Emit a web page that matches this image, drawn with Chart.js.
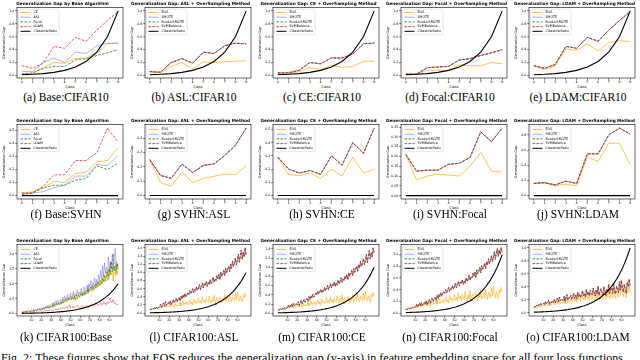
<!DOCTYPE html>
<html>
<head>
<meta charset="utf-8">
<script src="https://cdn.jsdelivr.net/npm/chart.js@4.4.0/dist/chart.umd.min.js"></script>
<style>
  body { margin: 0; width: 640px; height: 360px; overflow: hidden; background: #fff; position: relative; }
  canvas { position: absolute; }
  .cap { position: absolute; width: 128px; text-align: center; font-family: "Liberation Serif", "DejaVu Serif", serif; font-size: 11.5px; line-height: 12px; color: #000; white-space: nowrap; }
  .fig { position: absolute; left: 1px; top: 352px; font-family: "Liberation Serif", serif; font-size: 12px; line-height: 12px; white-space: nowrap; }
</style>
</head>
<body>
<div id="panels"></div>
<div class="fig">Fig. 2: These figures show that EOS reduces the generalization gap (y-axis) in feature embedding space for all four loss functions.</div>
<script>
// ---- data ----
const classes10 = [0, 1, 2, 3, 4, 5, 6, 7, 8, 9];
const classes100 = [0,1,2,3,4,5,6,7,8,9,10,11,12,13,14,15,16,17,18,19,20,21,22,23,24,25,26,27,28,29,30,31,32,33,34,35,36,37,38,39,40,41,42,43,44,45,46,47,48,49,50,51,52,53,54,55,56,57,58,59,60,61,62,63,64,65,66,67,68,69,70,71,72,73,74,75,76,77,78,79,80,81,82,83,84,85,86,87,88,89,90,91,92,93,94,95,96,97,98,99];
const xTicks10 = [0, 1, 2, 3, 4, 5, 6, 7, 8, 9];
const xTicks100 = [10, 20, 30, 40, 50, 60, 70, 80, 90];

const imbRatio10 = [0.01, 0.017, 0.028, 0.047, 0.078, 0.13, 0.216, 0.36, 0.6, 1.0];
const imbRatioSvhn = [0, 0, 0, 0, 0, 0, 0, 0, 0, 0];
const imbRatio100 = [.009,.009,.010,.010,.011,.012,.012,.013,.013,.014,.015,.016,.016,.017,.018,.019,.020,.021,.022,.023,
  .024,.026,.027,.028,.029,.031,.032,.034,.035,.037,.039,.041,.043,.045,.047,.049,.052,.054,.057,.059,
  .062,.065,.068,.072,.075,.079,.083,.086,.091,.095,.100,.104,.109,.115,.120,.126,.132,.138,.145,.152,
  .159,.167,.175,.184,.192,.202,.211,.222,.232,.243,.255,.268,.281,.294,.308,.323,.339,.355,.372,.390,
  .409,.429,.449,.471,.494,.517,.542,.568,.596,.624,.655,.686,.719,.754,.790,.828,.868,.910,.954,1.0];

// CIFAR10
const c10BaseCE    = [0.03, 0.03, 0.12, 0.20, 0.19, 0.26, 0.27, 0.35, 0.49, 0.50];
const c10BaseASL   = [0.06, 0.06, 0.20, 0.27, 0.20, 0.36, 0.34, 0.46, 0.50, 0.50];
const c10BaseFocal = [0.02, 0.04, 0.11, 0.14, 0.14, 0.24, 0.26, 0.31, 0.35, 0.40];
const c10BaseLDAM  = [0.15, 0.11, 0.19, 0.45, 0.42, 0.59, 0.53, 0.70, 0.85, 0.99];
const c10AslEOS  = [0.05, 0.04, 0.14, 0.20, 0.10, 0.21, 0.20, 0.21, 0.22, 0.23];
const c10AslSVM  = [0.06, 0.05, 0.20, 0.26, 0.19, 0.36, 0.34, 0.46, 0.50, 0.49];
const c10CeEOS   = [0.03, 0.03, 0.06, 0.12, 0.09, 0.16, 0.12, 0.14, 0.22, 0.22];
const c10CeSVM   = [0.04, 0.04, 0.08, 0.20, 0.18, 0.27, 0.27, 0.33, 0.49, 0.50];
const c10FocalEOS = [0.02, 0.02, 0.08, 0.08, 0.08, 0.16, 0.15, 0.15, 0.20, 0.18];
const c10FocalSVM = [0.02, 0.02, 0.12, 0.13, 0.14, 0.24, 0.26, 0.31, 0.35, 0.40];
const c10LdamEOS = [0.15, 0.09, 0.15, 0.41, 0.39, 0.49, 0.38, 0.51, 0.54, 0.52];
const c10LdamSVM = [0.15, 0.11, 0.17, 0.45, 0.42, 0.59, 0.53, 0.70, 0.85, 0.99];

// SVHN
const svBaseCE    = [0.02, 0.03, 0.06, 0.11, 0.10, 0.17, 0.18, 0.26, 0.27, 0.37];
const svBaseASL   = [0.01, 0.02, 0.03, 0.06, 0.08, 0.15, 0.15, 0.24, 0.23, 0.31];
const svBaseFocal = [0.01, 0.02, 0.06, 0.08, 0.08, 0.12, 0.13, 0.23, 0.20, 0.25];
const svBaseLDAM  = [0.02, 0.02, 0.07, 0.16, 0.16, 0.27, 0.27, 0.33, 0.52, 0.41];
const svAslEOS  = [0.25, 0.09, 0.065, 0.165, 0.09, 0.12, 0.135, 0.15, 0.145, 0.21];
const svAslSVM  = [0.25, 0.14, 0.12, 0.22, 0.16, 0.21, 0.22, 0.28, 0.35, 0.47];
const svCeEOS   = [0.29, 0.16, 0.15, 0.17, 0.13, 0.20, 0.15, 0.29, 0.17, 0.20];
const svCeSVM   = [0.29, 0.20, 0.17, 0.19, 0.16, 0.30, 0.23, 0.40, 0.32, 0.51];
const svFocalEOS = [0.21, 0.08, 0.10, 0.11, 0.105, 0.10, 0.15, 0.22, 0.125, 0.12];
const svFocalSVM = [0.21, 0.125, 0.13, 0.13, 0.16, 0.165, 0.195, 0.325, 0.275, 0.345];
const svLdamEOS = [0.16, 0.17, 0.13, 0.15, 0.13, 0.51, 0.45, 0.69, 0.69, 0.41];
const svLdamSVM = [0.16, 0.17, 0.14, 0.19, 0.16, 0.55, 0.55, 0.80, 0.89, 0.81];

// CIFAR100
const c100BaseCE = [.05,.04,.06,.05,.08,.06,.07,.09,.06,.08, .10,.07,.11,.09,.13,.10,.12,.15,.11,.14,
  .16,.12,.18,.14,.20,.17,.22,.16,.24,.19, .26,.21,.30,.24,.33,.27,.38,.29,.35,.31,
  .40,.33,.45,.36,.42,.50,.38,.55,.44,.48, .60,.45,.52,.65,.48,.58,.62,.50,.68,.55,
  .58,.72,.60,.66,.75,.62,.70,.80,.68,.85, .78,.90,.72,.95,.82,.88,1.0,.85,1.05,.92,
  1.1,.95,1.2,1.0,1.3,1.05,1.15,1.4,1.1,1.5, 1.2,1.7,1.3,1.45,1.1,1.6,1.25,1.75,1.3,1.65];
const c100BaseASL = [.06,.05,.08,.06,.10,.07,.09,.11,.07,.10, .12,.09,.14,.10,.15,.12,.16,.13,.18,.14,
  .19,.15,.21,.17,.25,.19,.27,.20,.30,.23, .28,.35,.25,.38,.30,.42,.33,.45,.36,.40,
  .48,.38,.55,.42,.60,.45,.52,.65,.47,.58, .70,.50,.62,.75,.55,.68,.60,.80,.58,.72,
  .65,.85,.62,.78,.90,.70,.82,.95,.75,1.0, .88,1.1,.85,1.05,.95,1.2,.92,1.15,1.0,1.3,
  1.1,1.45,1.2,1.6,1.25,1.7,1.35,1.55,1.3,1.9, 1.4,1.75,1.5,2.0,1.45,1.8,2.2,1.5,1.65,1.55];
const c100BaseFocal = [.04,.05,.04,.06,.05,.07,.06,.08,.06,.07, .09,.08,.11,.09,.12,.10,.14,.11,.15,.13,
  .16,.14,.18,.15,.20,.17,.22,.19,.24,.20, .25,.22,.28,.24,.30,.26,.33,.28,.36,.30,
  .38,.33,.42,.36,.45,.40,.48,.42,.52,.45, .50,.46,.55,.48,.58,.44,.62,.50,.56,.60,
  .55,.65,.58,.70,.60,.74,.66,.78,.70,.82, .75,.88,.80,.92,.78,.96,.85,1.0,.90,1.05,
  .95,1.1,1.0,1.2,1.05,1.3,1.1,1.25,1.4,1.15, 1.5,1.3,1.75,1.4,2.0,1.45,1.6,1.35,1.7,1.5];
const c100BaseLDAM = [.03,.04,.03,.05,.04,.06,.05,.04,.06,.05, .06,.05,.08,.06,.07,.09,.06,.08,.07,.10,
  .08,.10,.07,.12,.09,.11,.10,.13,.09,.12, .11,.14,.10,.13,.15,.12,.16,.13,.18,.14,
  .20,.15,.17,.22,.16,.19,.24,.17,.21,.30, .18,.22,.20,.26,.19,.23,.21,.28,.22,.20,
  .24,.21,.27,.23,.20,.26,.22,.29,.24,.25, .30,.25,.33,.27,.24,.31,.28,.35,.26,.30,
  .29,.36,.27,.32,.40,.30,.34,.28,.38,.33, .45,.52,.36,.40,.48,.32,.35,.30,.28,.33];

const c100AslEOS = [.08,.10,.09,.11,.10,.13,.11,.14,.12,.13, .15,.12,.18,.14,.16,.20,.13,.17,.15,.19,
  .16,.22,.15,.18,.20,.14,.24,.17,.21,.18, .20,.26,.18,.23,.30,.19,.25,.22,.28,.20,
  .24,.32,.22,.27,.20,.35,.25,.30,.23,.28, .38,.26,.31,.24,.40,.28,.33,.25,.36,.29,
  .27,.42,.30,.25,.35,.28,.44,.26,.32,.38, .30,.27,.40,.33,.25,.36,.30,.45,.28,.34,
  .38,.29,.46,.32,.27,.40,.35,.30,.48,.33, .52,.36,.30,.42,.34,.28,.45,.38,.50,.40];
const c100AslSVM = [.08,.10,.09,.12,.10,.14,.11,.15,.12,.13, .16,.22,.14,.20,.25,.17,.28,.19,.23,.26,
  .22,.30,.20,.27,.33,.25,.30,.36,.28,.34, .38,.30,.42,.35,.45,.38,.48,.40,.44,.50,
  .46,.55,.48,.52,.60,.50,.58,.54,.65,.56, .62,.70,.58,.66,.74,.62,.72,.68,.78,.66,
  .75,.70,.82,.72,.78,.88,.76,.84,.80,.92, .85,.95,.82,1.0,.90,.96,1.05,.92,1.1,1.0,
  1.08,1.15,1.02,1.2,1.1,1.28,1.15,1.22,1.35,1.18, 1.3,1.45,1.25,1.4,1.55,1.32,1.5,1.38,1.6,1.42];
const c100CeEOS = [.07,.09,.08,.10,.09,.11,.10,.12,.10,.11, .13,.10,.15,.12,.14,.17,.11,.15,.13,.16,
  .14,.19,.13,.16,.18,.12,.21,.15,.19,.16, .18,.23,.16,.21,.27,.17,.22,.20,.25,.18,
  .22,.29,.20,.24,.18,.31,.23,.27,.21,.25, .34,.23,.28,.22,.36,.25,.30,.22,.33,.26,
  .24,.38,.27,.22,.32,.25,.40,.23,.29,.34, .27,.24,.36,.30,.22,.33,.27,.41,.25,.31,
  .35,.26,.42,.29,.24,.37,.32,.27,.44,.30, .47,.33,.27,.38,.31,.25,.41,.35,.45,.37];
const c100CeSVM = [.06,.08,.07,.10,.08,.11,.09,.12,.10,.11, .13,.18,.12,.16,.20,.14,.22,.16,.19,.21,
  .18,.25,.17,.23,.28,.21,.26,.30,.24,.29, .32,.26,.36,.30,.38,.33,.41,.35,.39,.44,
  .40,.48,.42,.46,.52,.44,.50,.47,.56,.49, .54,.61,.51,.58,.64,.55,.63,.59,.68,.58,
  .66,.61,.72,.64,.69,.77,.67,.74,.71,.81, .75,.84,.73,.88,.80,.85,.93,.82,.97,.89,
  .95,1.02,.91,1.06,.98,1.13,1.02,1.08,1.19,1.05, 1.15,1.28,1.1,1.24,1.36,1.18,1.32,1.22,1.42,1.3];
const c100FocalEOS = [.06,.08,.07,.09,.08,.10,.09,.11,.09,.10, .12,.09,.14,.11,.13,.16,.10,.14,.12,.15,
  .13,.18,.12,.15,.17,.11,.20,.14,.18,.15, .17,.22,.15,.20,.25,.16,.21,.19,.24,.17,
  .21,.28,.19,.23,.17,.30,.22,.26,.20,.24, .32,.22,.27,.21,.35,.24,.29,.21,.32,.25,
  .23,.37,.26,.21,.31,.24,.39,.22,.28,.33, .26,.23,.35,.29,.21,.32,.26,.40,.24,.30,
  .34,.25,.41,.28,.23,.36,.31,.26,.43,.29, .46,.32,.26,.37,.30,.24,.40,.34,.44,.36];
const c100FocalSVM = [.05,.07,.06,.08,.07,.09,.08,.10,.08,.09, .11,.15,.10,.13,.17,.12,.18,.13,.16,.18,
  .15,.21,.14,.19,.23,.17,.22,.25,.20,.24, .27,.22,.30,.25,.32,.28,.35,.29,.33,.37,
  .34,.40,.35,.39,.44,.37,.42,.40,.47,.41, .45,.51,.43,.49,.54,.46,.53,.50,.57,.49,
  .55,.51,.60,.54,.58,.65,.56,.62,.60,.68, .63,.70,.61,.74,.67,.71,.78,.69,.81,.75,
  .79,.85,.76,.88,.82,.93,.85,.90,.98,.88, .95,1.05,.92,1.02,1.1,.97,1.08,1.0,1.12,1.04];
const c100LdamEOS = [.06,.08,.07,.09,.08,.10,.09,.11,.09,.10, .12,.10,.13,.11,.12,.15,.10,.13,.12,.14,
  .13,.16,.12,.14,.17,.13,.18,.14,.16,.15, .15,.19,.14,.18,.22,.15,.19,.17,.21,.16,
  .19,.24,.17,.21,.16,.26,.20,.23,.18,.22, .27,.20,.24,.19,.30,.22,.26,.19,.28,.23,
  .21,.31,.24,.20,.28,.22,.33,.21,.26,.29, .24,.21,.32,.27,.20,.30,.24,.35,.22,.28,
  .31,.23,.37,.26,.22,.33,.29,.24,.38,.27, .40,.30,.25,.34,.28,.23,.37,.31,.42,.33];
const c100LdamSVM = [.08,.10,.09,.12,.10,.13,.11,.14,.12,.13, .15,.12,.17,.14,.16,.19,.13,.17,.15,.18,
  .16,.21,.15,.19,.22,.17,.24,.18,.21,.20, .19,.25,.18,.23,.28,.20,.24,.22,.27,.21,
  .24,.30,.22,.27,.21,.32,.25,.29,.23,.28, .34,.26,.30,.24,.36,.28,.32,.26,.35,.29,
  .28,.38,.31,.26,.35,.29,.41,.27,.33,.37, .31,.28,.40,.34,.27,.37,.31,.44,.30,.36,
  .39,.30,.46,.34,.29,.41,.36,.31,.48,.35, .50,.38,.32,.44,.36,.30,.47,.40,.52,.42];

// y tick labels per panel group
const yTicksUnit = [0.0, 0.2, 0.4, 0.6, 0.8, 1.0];
const yTicksHalf = [0.0, 0.1, 0.2, 0.3, 0.4, 0.5];
const yTicksSvAsl = [0.0, 0.1, 0.2, 0.3, 0.4];
const yTicksSvFocal = [0.00, 0.05, 0.10, 0.15, 0.20, 0.25, 0.30, 0.35];
const yTicksSvLdam = [0.0, 0.2, 0.4, 0.6, 0.8];
const yTicksBase100 = [0.0, 0.5, 1.0, 1.5, 2.0];
const yTicksAsl100 = [0.0, 0.2, 0.4, 0.6, 0.8, 1.0, 1.2, 1.4, 1.6];
const yTicksCe100 = [0.0, 0.2, 0.4, 0.6, 0.8, 1.0, 1.2, 1.4];

// ---- styles ----
const styles = {
  CE:            { color: 'rgba(255,165,0,0.75)', dash: [] },
  ASL:           { color: 'rgba(0,0,255,0.35)', dash: [] },
  Focal:         { color: 'rgba(0,128,0,0.8)', dash: [2.6, 1.4] },
  LDAM:          { color: 'rgba(240,20,20,0.8)', dash: [2.6, 1.4] },
  EOS:           { color: 'rgba(255,165,0,0.75)', dash: [] },
  SMOTE:         { color: 'rgba(0,0,255,0.35)', dash: [] },
  BorderSMOTE:   { color: 'rgba(0,128,0,0.8)', dash: [2.6, 1.4] },
  SVMBalance:    { color: 'rgba(240,20,20,0.85)', dash: [2.6, 1.4] },
  ClassImbRatio: { color: '#000', dash: [] },
};

const baseTitle = 'Generalization Gap by Base Algorithm';
const overTitle = (loss) => 'Generalization Gap: ' + loss + ' + OverSampling Method';
const over = (eos, svm, ratio) => [['EOS', eos], ['SMOTE', svm], ['BorderSMOTE', svm], ['SVMBalance', svm], ['ClassImbRatio', ratio]];

const rows = [
  { top: 0, height: 90, cap: 91 },
  { top: 117, height: 94, cap: 208 },
  { top: 237, height: 91, cap: 331 },
];

const panels = [
  { row: 0, caption: '(a) Base:CIFAR10', title: baseTitle, labels: classes10, xt: xTicks10, yt: yTicksUnit, y: [-0.04, 1.05], dec: 1,
    series: [['CE', c10BaseCE], ['ASL', c10BaseASL], ['Focal', c10BaseFocal], ['LDAM', c10BaseLDAM], ['ClassImbRatio', imbRatio10]] },
  { row: 0, caption: '(b) ASL:CIFAR10', title: overTitle('ASL'), labels: classes10, xt: xTicks10, yt: yTicksUnit, y: [-0.04, 1.05], dec: 1,
    series: over(c10AslEOS, c10AslSVM, imbRatio10) },
  { row: 0, caption: '(c) CE:CIFAR10', title: overTitle('CE'), labels: classes10, xt: xTicks10, yt: yTicksUnit, y: [-0.04, 1.05], dec: 1,
    series: over(c10CeEOS, c10CeSVM, imbRatio10) },
  { row: 0, caption: '(d) Focal:CIFAR10', title: overTitle('Focal'), labels: classes10, xt: xTicks10, yt: yTicksUnit, y: [-0.04, 1.05], dec: 1,
    series: over(c10FocalEOS, c10FocalSVM, imbRatio10) },
  { row: 0, caption: '(e) LDAM:CIFAR10', title: overTitle('LDAM'), labels: classes10, xt: xTicks10, yt: yTicksUnit, y: [-0.04, 1.05], dec: 1,
    series: over(c10LdamEOS, c10LdamSVM, imbRatio10) },

  { row: 1, caption: '(f) Base:SVHN', title: baseTitle, labels: classes10, xt: xTicks10, yt: yTicksHalf, y: [-0.026, 0.546], dec: 1,
    series: [['CE', svBaseCE], ['ASL', svBaseASL], ['Focal', svBaseFocal], ['LDAM', svBaseLDAM], ['ClassImbRatio', imbRatioSvhn]] },
  { row: 1, caption: '(g) SVHN:ASL', title: overTitle('ASL'), labels: classes10, xt: xTicks10, yt: yTicksSvAsl, y: [-0.024, 0.494], dec: 1,
    series: over(svAslEOS, svAslSVM, imbRatioSvhn) },
  { row: 1, caption: '(h) SVHN:CE', title: overTitle('CE'), labels: classes10, xt: xTicks10, yt: yTicksHalf, y: [-0.026, 0.536], dec: 1,
    series: over(svCeEOS, svCeSVM, imbRatioSvhn) },
  { row: 1, caption: '(i) SVHN:Focal', title: overTitle('Focal'), labels: classes10, xt: xTicks10, yt: yTicksSvFocal, y: [-0.017, 0.362], dec: 2,
    series: over(svFocalEOS, svFocalSVM, imbRatioSvhn) },
  { row: 1, caption: '(j) SVHN:LDAM', title: overTitle('LDAM'), labels: classes10, xt: xTicks10, yt: yTicksSvLdam, y: [-0.045, 0.935], dec: 1,
    series: over(svLdamEOS, svLdamSVM, imbRatioSvhn) },

  { row: 2, caption: '(k) CIFAR100:Base', title: baseTitle, labels: classes100, xt: xTicks100, yt: yTicksBase100, y: [-0.08, 2.31], dec: 1,
    series: [['CE', c100BaseCE], ['ASL', c100BaseASL], ['Focal', c100BaseFocal], ['LDAM', c100BaseLDAM], ['ClassImbRatio', imbRatio100]] },
  { row: 2, caption: '(l) CIFAR100:ASL', title: overTitle('ASL'), labels: classes100, xt: xTicks100, yt: yTicksAsl100, y: [-0.07, 1.68], dec: 1,
    series: over(c100AslEOS, c100AslSVM, imbRatio100) },
  { row: 2, caption: '(m) CIFAR100:CE', title: overTitle('CE'), labels: classes100, xt: xTicks100, yt: yTicksCe100, y: [-0.06, 1.49], dec: 1,
    series: over(c100CeEOS, c100CeSVM, imbRatio100) },
  { row: 2, caption: '(n) CIFAR100:Focal', title: overTitle('Focal'), labels: classes100, xt: xTicks100, yt: yTicksUnit, y: [-0.05, 1.17], dec: 1,
    series: over(c100FocalEOS, c100FocalSVM, imbRatio100) },
  { row: 2, caption: '(o) CIFAR100:LDAM', title: overTitle('LDAM'), labels: classes100, xt: xTicks100, yt: yTicksUnit, y: [-0.05, 1.05], dec: 1,
    series: over(c100LdamEOS, c100LdamSVM, imbRatio100) },
];

// ---- frame box + in-axes legend like matplotlib ----
const frameLegend = {
  id: 'frameLegend',
  afterDatasetsDraw(chart) {
    const { ctx, chartArea: a } = chart;
    const sets = chart.data.datasets;
    ctx.save();
    ctx.strokeStyle = '#000';
    ctx.lineWidth = 0.6;
    ctx.strokeRect(a.left, a.top, a.right - a.left, a.bottom - a.top);

    ctx.font = '3.3px "DejaVu Sans"';
    const rowH = 4.7;
    const x0 = a.left + 1.5, y0 = a.top + 1.5;
    const w = 15 + Math.max(...sets.map(d => ctx.measureText(d.label).width)) + 2;
    const h = sets.length * rowH + 2;
    ctx.fillStyle = 'rgba(255,255,255,0.8)';
    ctx.strokeStyle = '#d0d0d0';
    ctx.lineWidth = 0.5;
    ctx.beginPath();
    ctx.roundRect(x0, y0, w, h, 1);
    ctx.fill();
    ctx.stroke();
    sets.forEach((d, i) => {
      const y = y0 + 1 + rowH * (i + 0.5);
      ctx.strokeStyle = d.borderColor;
      ctx.lineWidth = 1;
      ctx.setLineDash(d.borderDash);
      ctx.beginPath();
      ctx.moveTo(x0 + 2, y);
      ctx.lineTo(x0 + 12, y);
      ctx.stroke();
      ctx.setLineDash([]);
      ctx.fillStyle = '#000';
      ctx.textBaseline = 'middle';
      ctx.fillText(d.label, x0 + 15, y);
    });
    ctx.restore();
  }
};

const font = (size) => ({ family: '"DejaVu Sans", sans-serif', size: size });
const holder = document.getElementById('panels');

panels.forEach((p, i) => {
  const col = i % 5;
  const r = rows[p.row];
  const canvas = document.createElement('canvas');
  canvas.width = 128;
  canvas.height = r.height;
  canvas.style.left = (col * 128) + 'px';
  canvas.style.top = r.top + 'px';
  holder.appendChild(canvas);

  const cap = document.createElement('div');
  cap.className = 'cap';
  cap.style.left = (col * 128 + 2) + 'px';
  cap.style.top = r.cap + 'px';
  cap.textContent = p.caption;
  holder.appendChild(cap);

  const n = p.series.length;
  const big = p.labels.length > 10;
  const datasets = p.series.map(([name, values], k) => ({
    label: name,
    data: values,
    borderColor: styles[name].color,
    borderDash: styles[name].dash,
    borderWidth: name === 'ClassImbRatio' ? 1.1 : (big ? 0.75 : 0.9),
    pointRadius: 0,
    tension: 0,
    fill: false,
    order: n - k,
  }));

  new Chart(canvas.getContext('2d'), {
    type: 'line',
    data: { labels: p.labels, datasets: datasets },
    plugins: [frameLegend],
    options: {
      responsive: false,
      animation: false,
      devicePixelRatio: 1,
      layout: { padding: { left: 2, right: 5, top: 0, bottom: 0 } },
      plugins: {
        legend: { display: false },
        tooltip: { enabled: false },
        title: { display: true, text: p.title, color: '#000', font: font(4.3), padding: { top: 1, bottom: 1.5 } },
      },
      scales: {
        x: {
          type: 'linear',
          min: big ? -5 : -0.45,
          max: big ? 104 : 9.45,
          afterBuildTicks: (s) => { s.ticks = p.xt.map(v => ({ value: v })); },
          afterFit: (s) => { s.height = 12; },
          ticks: { color: '#000', font: font(3.3), padding: 0.5, maxRotation: 0, autoSkip: false },
          grid: { drawOnChartArea: false, tickLength: 1.8, color: '#000', lineWidth: 0.5 },
          border: { display: false },
          title: { display: true, text: 'Class', color: '#000', font: font(3.4), padding: 0.5 },
        },
        y: {
          min: p.y[0],
          max: p.y[1],
          afterBuildTicks: (s) => { s.ticks = p.yt.map(v => ({ value: v })); },
          afterFit: (s) => { s.width = 15; },
          ticks: { color: '#000', font: font(3.3), padding: 0.8, autoSkip: false, callback: (v) => Number(v).toFixed(p.dec) },
          grid: { drawOnChartArea: false, tickLength: 1.8, color: '#000', lineWidth: 0.5 },
          border: { display: false },
          title: { display: true, text: 'Generalization Gap', color: '#000', font: font(3.4), padding: 0.5 },
        },
      },
    },
  });
});
</script>
</body>
</html>
